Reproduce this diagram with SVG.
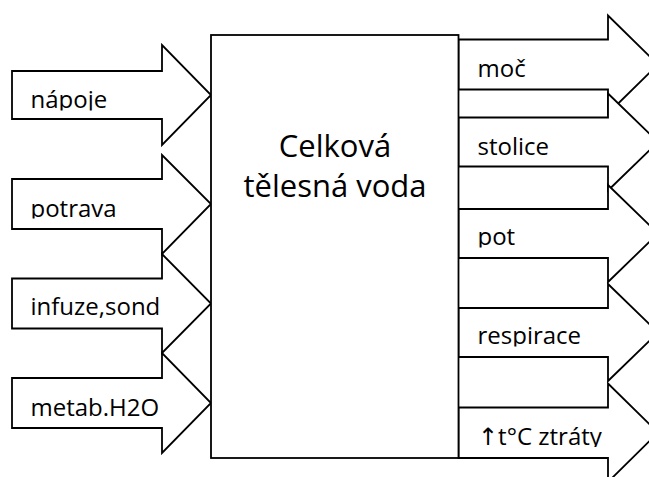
<svg xmlns="http://www.w3.org/2000/svg" width="649" height="477" viewBox="0 0 649 477">
<style>
.sh{fill:#fff;stroke:#000;stroke-width:1.8;stroke-linejoin:miter}
.lb{font-family:"Open Sans","DejaVu Sans",sans-serif;font-size:24px;fill:#000}
.ct{font-family:"Open Sans","DejaVu Sans",sans-serif;font-size:31px;fill:#000;text-anchor:middle}
</style>
<defs>
<clipPath id="c1"><rect x="0" y="71" width="211" height="39.5"/></clipPath>
<clipPath id="c2"><rect x="0" y="179" width="211" height="39.5"/></clipPath>
<clipPath id="c7"><rect x="459" y="209" width="190" height="38.5"/></clipPath>
<clipPath id="c8"><rect x="459" y="308" width="190" height="38.5"/></clipPath>
<clipPath id="c9"><rect x="459" y="407.5" width="190" height="39.5"/></clipPath>
</defs>
<rect width="649" height="477" fill="#fff"/>
<g id="connectors">
<g id="in-napoje"><polygon class="sh" points="12,71 162,71 162,45 211,95 162,145 162,119 12,119"/><text class="lb" x="30.5" y="107.7" clip-path="url(#c1)">nápoje</text></g>
<g id="in-potrava"><polygon class="sh" points="12,179 162,179 162,155 211,204 162,254 162,229 12,229"/><text class="lb" x="30.5" y="216.5" clip-path="url(#c2)">potrava</text></g>
<g id="in-infuze"><polygon class="sh" points="12,278.5 162,278.5 162,254 211,303.5 162,353 162,328.5 12,328.5"/><text class="lb" x="30.5" y="315.2">infuze,sond</text></g>
<g id="in-metab"><polygon class="sh" points="12,378 162,378 162,353 211,403 162,453 162,428 12,428"/><text class="lb" x="30.5" y="415.5">metab.H2O</text></g>
<g id="out-moc"><polygon class="sh" points="458.5,39.5 608,39.5 608,15.5 658,64.5 608,113.5 608,89.5 458.5,89.5"/><text class="lb" x="477.5" y="76.7">moč</text></g>
<g id="out-stolice"><polygon class="sh" points="458.5,117.5 608,117.5 608,93.5 658,142 608,190.5 608,166.5 458.5,166.5"/><text class="lb" x="477.5" y="155">stolice</text></g>
<g id="out-pot"><polygon class="sh" points="458.5,209 608,209 608,185 658,233.5 608,282 608,258 458.5,258"/><text class="lb" x="477.5" y="245" clip-path="url(#c7)">pot</text></g>
<g id="out-respirace"><polygon class="sh" points="458.5,308 608,308 608,284 658,332.5 608,381 608,357 458.5,357"/><text class="lb" x="477.5" y="344.3" clip-path="url(#c8)">respirace</text></g>
<g id="out-ztraty"><polygon class="sh" points="458.5,407.5 608,407.5 608,383.5 658,432.7 608,482 608,458 458.5,458"/><text class="lb" x="478" y="445" clip-path="url(#c9)">↑t°C ztráty</text></g>
</g>
<g id="node-body">
<rect class="sh" x="211" y="35" width="247.5" height="423"/>
<text class="ct" x="335" y="156.7">Celková</text>
<text class="ct" x="335" y="197.3">tělesná voda</text>
</g>
</svg>
